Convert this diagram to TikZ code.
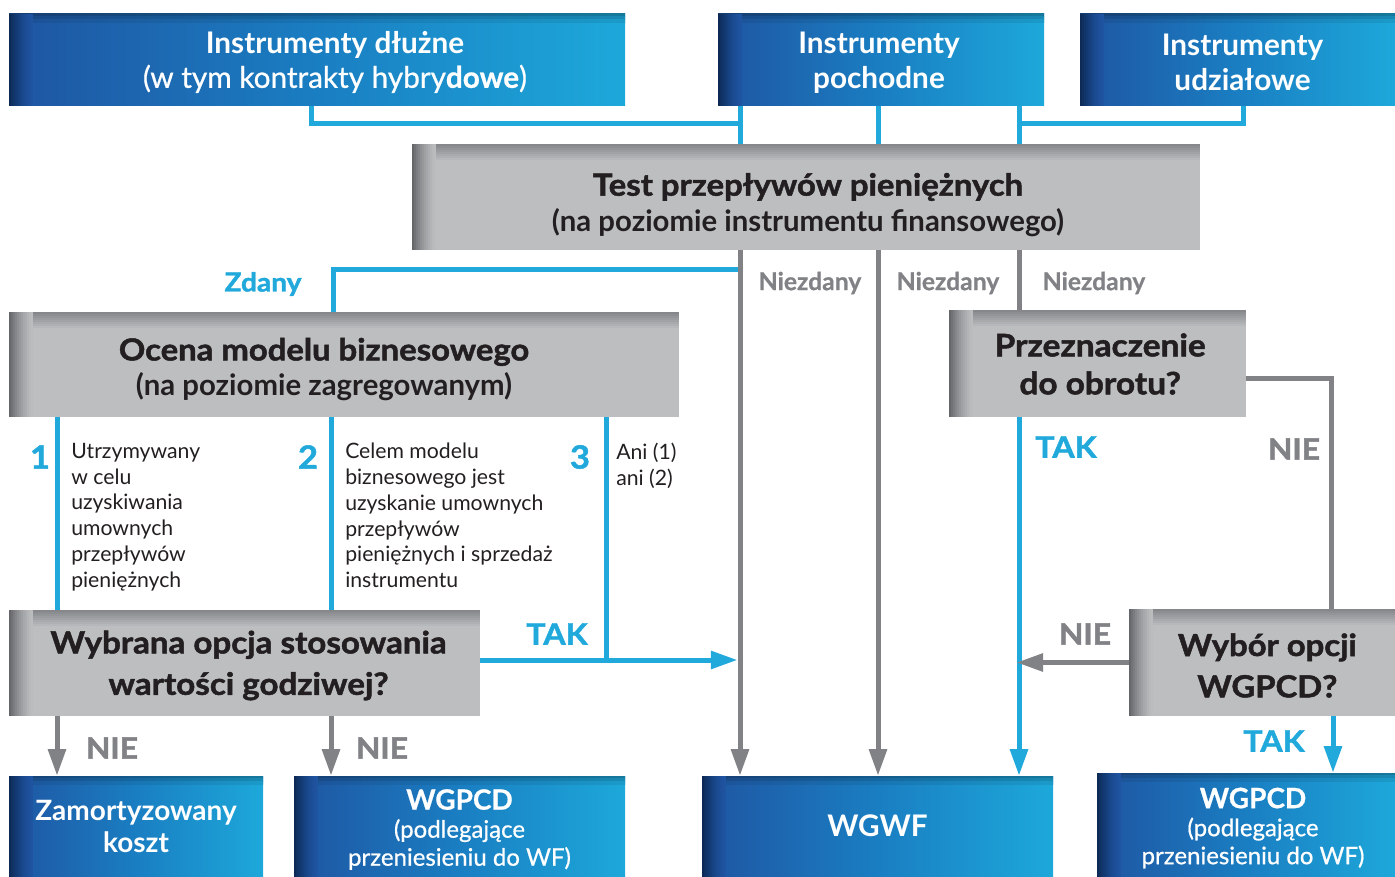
\documentclass[tikz,border=0pt]{standalone}
\usepackage{fontspec}
\setmainfont{Lato}
\newfontfamily\heavyfont{Lato}[FakeBold=1.6, FakeStretch=1.08]
\newfontfamily\medfont{Lato}[FakeBold=0.7]
\usetikzlibrary{arrows.meta}
\definecolor{cblue}{HTML}{22A9DC}
\definecolor{cgray}{HTML}{808285}
\definecolor{cbox}{HTML}{BCBEC0}
\definecolor{gleft}{HTML}{66676A}
\definecolor{gtop}{HTML}{86878B}
\definecolor{ctext}{HTML}{231F20}
\definecolor{bnavy}{HTML}{0D2A57}
\definecolor{bA}{HTML}{1F55A2}
\definecolor{bB}{HTML}{1A7EC2}
\definecolor{bC}{HTML}{1DA8DA}
\colorlet{bA1}{bA!72!black}\colorlet{bB1}{bB!72!black}\colorlet{bC1}{bC!72!black}
\colorlet{bA2}{bA!82!black}\colorlet{bB2}{bB!82!black}\colorlet{bC2}{bC!82!black}
\colorlet{bA3}{bA!92!black}\colorlet{bB3}{bB!92!black}\colorlet{bC3}{bC!92!black}
\pgfdeclarehorizontalshading{bluegrad}{100bp}{color(0bp)=(bA); color(25bp)=(bA); color(50bp)=(bB); color(75bp)=(bC); color(100bp)=(bC)}
\pgfdeclarehorizontalshading{bluegradI}{100bp}{color(0bp)=(bA1); color(25bp)=(bA1); color(50bp)=(bB1); color(75bp)=(bC1); color(100bp)=(bC1)}
\pgfdeclarehorizontalshading{bluegradII}{100bp}{color(0bp)=(bA2); color(25bp)=(bA2); color(50bp)=(bB2); color(75bp)=(bC2); color(100bp)=(bC2)}
\pgfdeclarehorizontalshading{bluegradIII}{100bp}{color(0bp)=(bA3); color(25bp)=(bA3); color(50bp)=(bB3); color(75bp)=(bC3); color(100bp)=(bC3)}
% #1 box style, #2 text style, #3 name, #4-#7 corners (px), #8 text, #9 vertical text offset (px)
\newcommand\mkbox[9]{%
  \node[#1, minimum width={(#6-#4)*0.75pt}, minimum height={(#7-#5)*0.75pt}] (#3) at ({(#4+#6)/2},{(#5+#7)/2}) {};
  \node[#2] (#3t) at ({(#4+#6)/2},{(#5+#7)/2+#9}) {#8};}
\tikzset{
  bbox/.style={shading=bluegrad, inner sep=0pt,
    path picture={
      \shade[shading=bluegradI] (path picture bounding box.north west) rectangle ([yshift=-2.2pt]path picture bounding box.north east);
      \shade[shading=bluegradII] ([yshift=-2.2pt]path picture bounding box.north west) rectangle ([yshift=-4.4pt]path picture bounding box.north east);
      \shade[shading=bluegradIII] ([yshift=-4.4pt]path picture bounding box.north west) rectangle ([yshift=-6.6pt]path picture bounding box.north east);
      \foreach \i [evaluate=\i as \p using {int(100*(1-\i/12)^1.5)}] in {0,...,11}{
        \fill[bnavy!\p!bA] ([xshift=\i*1.5pt]path picture bounding box.north west) rectangle ([xshift=\i*1.5pt+1.6pt]path picture bounding box.south west);}
    }},
  gbox/.style={fill=cbox, inner sep=0pt,
    path picture={
      \foreach \i [evaluate=\i as \p using {int(100*(1-\i/8))}] in {0,...,7}{
        \fill[gtop!\p!cbox] ([yshift=-\i*1.5pt]path picture bounding box.north west) rectangle ([yshift=-\i*1.5pt-1.6pt]path picture bounding box.north east);}
      \foreach \i [evaluate=\i as \p using {int(100*(1-\i/12)^1.5)}] in {0,...,11}{
        \fill[gleft!\p!cbox] ([xshift=\i*1.5pt]path picture bounding box.north west) rectangle ([xshift=\i*1.5pt+1.6pt]path picture bounding box.south west);}
    }},
  btxt/.style={text=white, align=center, inner sep=0pt, font=\bfseries\fontsize{22.3}{26}\selectfont},
  gtxt/.style={text=ctext, align=center, inner sep=0pt, font=\bfseries\fontsize{22}{26.5}\selectfont},
  bl/.style={draw=cblue, line width=3.75pt},
  gl/.style={draw=cgray, line width=3.75pt},
  arr/.style={-{Triangle[length=20pt,width=13pt]}},
  lb/.style={text=cblue, font=\heavyfont\bfseries\fontsize{22.3}{26}\selectfont, inner sep=0pt},
  lg/.style={text=cgray, font=\heavyfont\bfseries\fontsize{22}{26}\selectfont, inner sep=0pt},
  lnz/.style={text=cgray, font=\medfont\bfseries\fontsize{18.5}{22}\selectfont, inner sep=0pt},
  num/.style={text=cblue, font=\heavyfont\bfseries\fontsize{24}{28}\selectfont, inner sep=0pt},
  body/.style={text=ctext, align=left, inner sep=0pt, anchor=north west, font=\fontsize{15.9}{19.3}\selectfont},
}
\begin{document}
\begin{tikzpicture}[x=0.75pt,y=-0.75pt]
\useasboundingbox (0,0) rectangle (1395,877);
% coordinates for vertical line positions
\coordinate (x57) at (57,0);
\coordinate (x311) at (311,0);
\coordinate (x331) at (331,0);
\coordinate (x333) at (333,0);
\coordinate (x606) at (606,0);
\coordinate (x740) at (740,0);
\coordinate (x878) at (878,0);
\coordinate (x1019) at (1019,0);
\coordinate (x1243) at (1243,0);
\coordinate (x1331) at (1331,0);
\coordinate (x1333) at (1333,0);
\coordinate (jL) at (740,124);
\coordinate (jR) at (1019,124);
\coordinate (jZ) at (740,270);
\coordinate (jT) at (606,660);
\coordinate (yP) at (0,378);
% boxes
\mkbox{bbox}{btxt, xshift=13.5pt}{A}{9}{14}{625}{106}{Instrumenty dłużne\\{\medfont\mdseries(w tym kontrakty hybry\textbf{dowe})}}{2}
\mkbox{bbox}{btxt, xshift=-1.5pt}{B}{718}{14}{1044}{106}{Instrumenty\\pochodne}{2.5}
\mkbox{bbox}{btxt, xshift=3.75pt}{C}{1080}{14}{1395}{106}{Instrumenty\\udziałowe}{2.5}
\mkbox{gbox}{gtxt, xshift=1.5pt, font=\bfseries\fontsize{22}{27}\selectfont}{T}{412}{144}{1200}{250}{{\heavyfont\bfseries\fontsize{22.8}{27}\selectfont Test przepływów pieniężnych}\\(na poziomie instrumentu finansowego)}{8}
\mkbox{gbox}{gtxt, xshift=-15pt}{O}{9}{312}{679}{417}{{\heavyfont\bfseries\fontsize{22.8}{26.5}\selectfont Ocena modelu biznesowego}\\(na poziomie zagregowanym)}{5}
\mkbox{gbox}{gtxt, xshift=2pt, font=\heavyfont\bfseries\fontsize{23.2}{28.5}\selectfont}{P}{949}{310}{1246}{417}{Przeznaczenie\\do obrotu?}{0.5}
\mkbox{gbox}{gtxt, xshift=3pt, font=\heavyfont\bfseries\fontsize{23}{31}\selectfont}{W}{9}{610}{480}{716}{Wybrana opcja stosowania\\wartości godziwej?}{2.5}
\mkbox{gbox}{gtxt, xshift=4pt, font=\heavyfont\bfseries\fontsize{22.8}{31}\selectfont}{V}{1129}{609}{1395}{716}{Wybór opcji\\WGPCD?}{3}
\mkbox{bbox}{btxt, font=\bfseries\fontsize{21}{24}\selectfont}{Z}{9}{776}{263}{877}{Zamortyzowany\\koszt}{0}
\mkbox{bbox}{btxt, font=\medfont\fontsize{18}{21}\selectfont}{G1}{294}{776}{625}{877}{{\bfseries\fontsize{21}{21}\selectfont WGPCD}\\(podlegające\\przeniesieniu do WF)}{3}
\mkbox{bbox}{btxt}{WG}{702}{776}{1053}{877}{WGWF}{-1}
\mkbox{bbox}{btxt, xshift=5.25pt, font=\medfont\fontsize{18}{21}\selectfont}{G2}{1097}{773}{1395}{877}{{\bfseries\fontsize{21}{21}\selectfont WGPCD}\\(podlegające\\przeniesieniu do WF)}{3}
% top connectors
\draw[bl] (A.south -| x311) |- (jL);
\draw[bl] (B.south -| x740) -- (T.north -| x740);
\draw[bl] (B.south -| x878) -- (T.north -| x878);
\draw[bl] (B.south -| x1019) -- (T.north -| x1019);
\draw[bl] (C.south -| x1243) |- (jR);
% Zdany branch
\draw[bl] (jZ) -| (O.north -| x333);
\draw[gl,arr] (T.south -| x740) -- (WG.north -| x740);
\draw[gl,arr] (T.south -| x878) -- (WG.north -| x878);
\draw[gl] (T.south -| x1019) -- (P.north -| x1019);
% business model branches
\draw[bl] (O.south -| x57) -- (W.north -| x57);
\draw[bl] (O.south -| x331) -- (W.north -| x331);
\draw[bl] (O.south -| x606) -- (jT);
\draw[bl,arr,shorten >=1.9pt] (W.east |- jT) -- (jT -| x740);
\draw[gl,arr] (W.south -| x57) -- (Z.north -| x57);
\draw[gl,arr] (W.south -| x331) -- (G1.north -| x331);
% right branch
\draw[bl,arr] (P.south -| x1019) -- (WG.north -| x1019);
\draw[gl] (P.east |- yP) -| (V.north -| x1331);
\draw[gl,arr,shorten >=-1.9pt] (V.west) -- (V.west -| x1019);
\draw[bl,arr] (V.south -| x1333) -- (G2.north -| x1333);
% labels
\node[lb, font=\heavyfont\bfseries\fontsize{19.5}{24}\selectfont] (lzd) at (263,284) {Zdany};
\node[lnz] (ln1) at (810,283) {Niezdany};
\node[lnz] (ln2) at (948,283) {Niezdany};
\node[lnz] (ln3) at (1094,283) {Niezdany};
\node[lb] (lt1) at (1066,447) {TAK};
\node[lg] (ln4) at (1294,449) {NIE};
\node[lg] (ln5) at (1085,634) {NIE};
\node[lb] (lt2) at (557,634) {TAK};
\node[lg] (ln6) at (112,748) {NIE};
\node[lg] (ln7) at (382,748) {NIE};
\node[lb] (lt3) at (1274,741) {TAK};
\node[num] (n1) at (40,457) {1};
\node[num] (n2) at (308,457) {2};
\node[num] (n3) at (580,457) {3};
\node[body] (t1) at (71,443) {Utrzymywany\\w celu\\uzyskiwania\\umownych\\przepływów\\pieniężnych};
\node[body] (t2) at (345,443) {Celem modelu\\biznesowego jest\\uzyskanie umownych\\przepływów\\pieniężnych i sprzedaż\\instrumentu};
\node[body] (t3) at (616,443) {Ani (1)\\ani (2)};
\end{tikzpicture}
\end{document}
